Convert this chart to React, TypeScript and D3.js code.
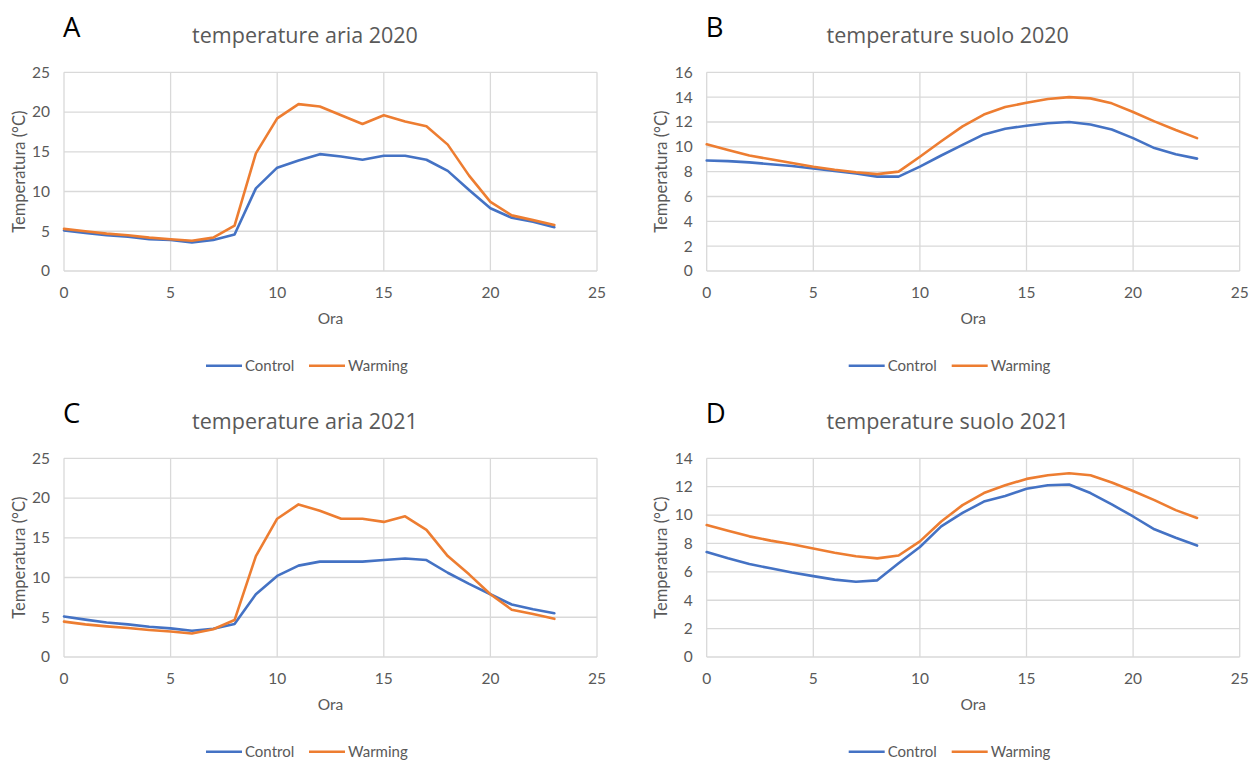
import React from "react";
import * as d3 from "d3";

// Hourly mean temperatures (hour 0..23)
const hours = d3.range(0, 24);

const ariaControl2020 = [5.1, 4.8, 4.5, 4.3, 4.0, 3.9, 3.6, 3.9, 4.6, 10.4, 13.0, 13.9, 14.7, 14.4, 14.0, 14.5, 14.5, 14.0, 12.6, 10.2, 7.9, 6.7, 6.2, 5.5];
const ariaWarming2020 = [5.3, 5.0, 4.7, 4.5, 4.2, 4.0, 3.8, 4.2, 5.7, 14.8, 19.2, 21.0, 20.7, 19.6, 18.5, 19.6, 18.8, 18.2, 15.9, 12.0, 8.7, 7.0, 6.4, 5.8];

const suoloControl2020 = [8.9, 8.85, 8.75, 8.6, 8.45, 8.25, 8.05, 7.85, 7.6, 7.6, 8.4, 9.3, 10.15, 11.0, 11.45, 11.7, 11.9, 12.0, 11.8, 11.4, 10.7, 9.9, 9.4, 9.05];
const suoloWarming2020 = [10.2, 9.75, 9.3, 9.0, 8.7, 8.4, 8.15, 7.95, 7.8, 8.0, 9.2, 10.45, 11.65, 12.6, 13.2, 13.55, 13.85, 14.0, 13.9, 13.5, 12.8, 12.05, 11.35, 10.7];

const ariaControl2021 = [5.1, 4.7, 4.35, 4.1, 3.8, 3.6, 3.3, 3.55, 4.15, 7.9, 10.2, 11.5, 12.0, 12.0, 12.0, 12.2, 12.4, 12.2, 10.6, 9.2, 7.9, 6.6, 6.0, 5.5];
const ariaWarming2021 = [4.45, 4.1, 3.85, 3.65, 3.4, 3.2, 2.95, 3.5, 4.65, 12.7, 17.4, 19.2, 18.4, 17.4, 17.4, 17.0, 17.7, 16.0, 12.7, 10.4, 7.9, 5.95, 5.4, 4.8];

const suoloControl2021 = [7.4, 6.95, 6.55, 6.25, 5.95, 5.7, 5.45, 5.3, 5.4, 6.6, 7.75, 9.2, 10.15, 10.95, 11.35, 11.85, 12.1, 12.15, 11.55, 10.75, 9.9, 9.0, 8.4, 7.85];
const suoloWarming2021 = [9.3, 8.9, 8.5, 8.2, 7.95, 7.65, 7.35, 7.1, 6.95, 7.15, 8.15, 9.55, 10.7, 11.55, 12.1, 12.55, 12.8, 12.95, 12.8, 12.3, 11.7, 11.05, 10.35, 9.8];

const xTicks = [0, 5, 10, 15, 20, 25];
const yTicksAria = [0, 5, 10, 15, 20, 25];
const yTicksSuolo2020 = [0, 2, 4, 6, 8, 10, 12, 14, 16];
const yTicksSuolo2021 = [0, 2, 4, 6, 8, 10, 12, 14];

const seriesNames = ["Control", "Warming"];
const seriesColors = ["#4472C4", "#ED7D31"];

const TEXT = "#595959";
const GRID = "#D9D9D9";
const FONT = "Lato, 'Open Sans', sans-serif";
const TITLE_FONT = "'Open Sans', Lato, sans-serif";

type PanelProps = {
  letter: string;
  title: string;
  control: number[];
  warming: number[];
  yTicks: number[];
  ox: number; // panel origin x
  oy: number; // panel origin y
};

function Panel({ letter, title, control, warming, yTicks, ox, oy }: PanelProps) {
  const left = 64;
  const right = 597;
  const top = 72.3;
  const bottom = 271;
  const chartCenter = 305;

  const x = d3.scaleLinear().domain([0, 25]).range([left, right]);
  const y = d3.scaleLinear().domain([0, d3.max(yTicks) as number]).range([bottom, top]);

  const line = d3
    .line<number>()
    .x((_, i) => x(hours[i]))
    .y((d) => y(d));

  return (
    <g transform={`translate(${ox},${oy})`} fontFamily={FONT}>
      <text x={63} y={37} fontSize={27.5} fill="#000" fontFamily={TITLE_FONT}>
        {letter}
      </text>
      <text x={chartCenter} y={43} fontSize={21.5} fill={TEXT} textAnchor="middle" fontFamily={TITLE_FONT}>
        {title}
      </text>

      {/* grid */}
      {yTicks.map((t) => (
        <line key={"h" + t} x1={left} x2={right} y1={y(t)} y2={y(t)} stroke={GRID} strokeWidth={1.3} />
      ))}
      {xTicks.map((t) => (
        <line key={"v" + t} x1={x(t)} x2={x(t)} y1={top} y2={bottom} stroke={GRID} strokeWidth={1.3} />
      ))}

      {/* tick labels */}
      {yTicks.map((t) => (
        <text key={"yl" + t} x={left - 14} y={y(t)} dy="0.35em" fontSize={15.5} fill={TEXT} textAnchor="end">
          {t}
        </text>
      ))}
      {xTicks.map((t) => (
        <text key={"xl" + t} x={x(t)} y={293} dy="0.35em" fontSize={15.5} fill={TEXT} textAnchor="middle">
          {t}
        </text>
      ))}

      {/* axis titles */}
      <text x={(left + right) / 2} y={319} dy="0.35em" fontSize={15.5} fill={TEXT} textAnchor="middle">
        Ora
      </text>
      <text
        transform={`translate(19,${(top + bottom) / 2}) rotate(-90)`}
        dy="0.35em"
        fontSize={16.5}
        fill={TEXT}
        textAnchor="middle"
      >
        Temperatura (°C)
      </text>

      {/* series */}
      {[control, warming].map((vals, i) => (
        <path
          key={seriesNames[i]}
          d={line(vals) as string}
          fill="none"
          stroke={seriesColors[i]}
          strokeWidth={2.6}
          strokeLinejoin="round"
          strokeLinecap="round"
        />
      ))}

      {/* legend */}
      {seriesNames.map((name, i) => {
        const lx = 206 + i * 103;
        return (
          <g key={"lg" + name}>
            <line x1={lx} x2={lx + 36} y1={365.7} y2={365.7} stroke={seriesColors[i]} strokeWidth={2.6} />
            <text x={lx + 39} y={365.7} dy="0.35em" fontSize={15} fill={TEXT}>
              {name}
            </text>
          </g>
        );
      })}
    </g>
  );
}

export default function App() {
  return (
    <svg width={1258} height={761} style={{ display: "block", position: "absolute", left: 0, top: 0, background: "#fff" }}>
      <rect width={1258} height={761} fill="#fff" />
      <Panel letter="A" title="temperature aria 2020" control={ariaControl2020} warming={ariaWarming2020} yTicks={yTicksAria} ox={0} oy={0} />
      <Panel letter="B" title="temperature suolo 2020" control={suoloControl2020} warming={suoloWarming2020} yTicks={yTicksSuolo2020} ox={642.7} oy={0} />
      <Panel letter="C" title="temperature aria 2021" control={ariaControl2021} warming={ariaWarming2021} yTicks={yTicksAria} ox={0} oy={386} />
      <Panel letter="D" title="temperature suolo 2021" control={suoloControl2021} warming={suoloWarming2021} yTicks={yTicksSuolo2021} ox={642.7} oy={386} />
    </svg>
  );
}
